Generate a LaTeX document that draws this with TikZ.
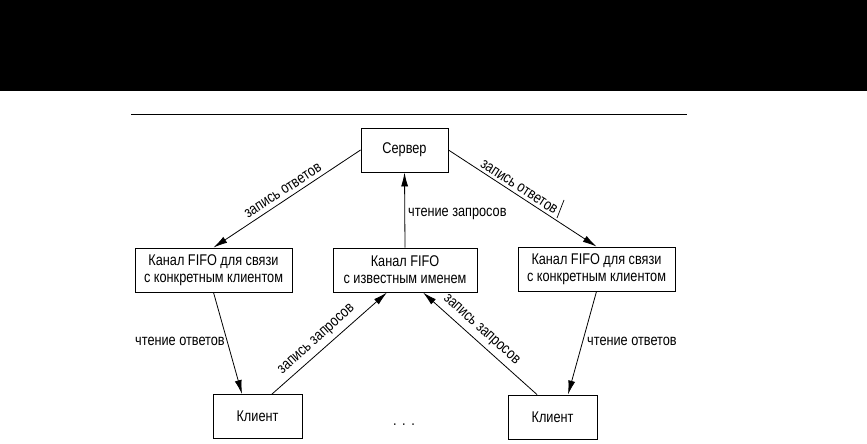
\documentclass[tikz,border=0pt]{standalone}
\usepackage{fontspec}
\setmainfont[FakeStretch=0.82]{Liberation Sans}
\usetikzlibrary{arrows.meta}
\begin{document}
\begin{tikzpicture}[x=1pt,y=-1pt,
  box/.style={draw=black, line width=0.9pt, minimum height=44pt, inner sep=0pt, align=center,
              font=\fontsize{15.5}{17}\selectfont},
  lbl/.style={inner sep=0pt, font=\fontsize{15.5}{17}\selectfont},
  arr/.style={line width=0.8pt, -{Latex[length=14pt,width=7pt]}}]
\useasboundingbox (0,0) rectangle (867,444);
\fill[black] (0,0) rectangle (867,91);
\draw[line width=1.2pt] (131,114.5) -- (687,114.5);
% nodes
\node[box, minimum width=87pt]  (srv) at (404.5,150) {Сервер};
\node[box, minimum width=157pt] (lf)  at (213.5,270) {Канал FIFO для связи\\с конкретным клиентом};
\node[box, minimum width=144pt] (mf)  at (405,270)   {Канал FIFO\\с известным именем};
\node[box, minimum width=157pt] (rf)  at (596.5,269) {Канал FIFO для связи\\с конкретным клиентом};
\node[box, minimum width=89pt]  (lc)  at (257.5,416.5) {Клиент};
\node[box, minimum width=89pt]  (rc)  at (552.5,417) {Клиент};
\node[lbl, anchor=base] (dots) at (404,425) {.\hspace{5.5pt}.\hspace{5.5pt}.};
% connectors
\draw[arr] (srv.west) -- (lf.north);
\draw[arr] (srv.east) -- (rf.north);
\draw[arr] (mf.north) -- (srv.south);
\draw[arr] (lf.south) -- ([xshift=-15.5pt]lc.north);
\draw[arr] ([xshift=14.5pt]lc.north) -- ([xshift=-18pt]mf.south);
\draw[arr] ([xshift=-15.5pt]rc.north) -- ([xshift=18pt]mf.south);
\draw[arr] (rf.south) -- ([xshift=15.5pt]rc.north);
% labels
\node[lbl, rotate=33]  (l1) at (283,191) {запись ответов};
\node[lbl, rotate=-33] (l2) at (519,187) {запись ответов};
\node[lbl, anchor=west] (l3) at (408,214) {чтение запросов};
\node[lbl, anchor=west] (l4) at (135,341) {чтение ответов};
\node[lbl, rotate=42]  (l5) at (317,340) {запись запросов};
\node[lbl, rotate=-42] (l6) at (481,330) {запись запросов};
\node[lbl, anchor=west] (l7) at (587,341) {чтение ответов};
\draw[line width=0.7pt] (564,200) -- (557,218);
\end{tikzpicture}
\end{document}
